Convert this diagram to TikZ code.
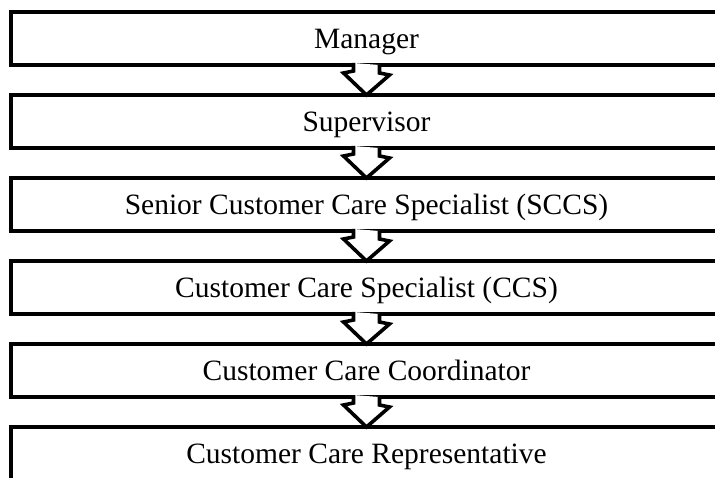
\documentclass[tikz,border=0pt]{standalone}
\usepackage{fontspec}
\setmainfont{Liberation Serif}
\usepackage{tikz}
\usetikzlibrary{positioning,calc}

\begin{document}
\begin{tikzpicture}[
    x=1pt, y=-1pt,
    level/.style={rectangle, draw, line width=4pt, outer sep=0pt, minimum width=711pt, minimum height=53pt, text height=23pt, text depth=3pt, font=\fontsize{29.5}{32}\selectfont},
    down/.style={draw, line width=3.6pt, fill=white, line join=miter}
]
    \useasboundingbox (0,0) rectangle (715,478);

    \node[level] (mgr)  at (366.5,38.5)  {Manager};
    \node[level] (sup)  at (366.5,121.5) {Supervisor};
    \node[level] (sccs) at (366.5,204.5) {Senior Customer Care Specialist (SCCS)};
    \node[level] (ccs)  at (366.5,287.5) {Customer Care Specialist (CCS)};
    \node[level] (ccc)  at (366.5,370.5) {Customer Care Coordinator};
    \node[level] (ccr)  at (366.5,453.5) {Customer Care Representative};

    % block arrows, white fill wipes out the border under the shaft
    \draw[down] ($(mgr.south)+(-13,-2)$) -- ++(0,8) -- ++(-10,2) -- (sup.north) -- ++(23,-20) -- ++(-10,-2) -- ++(0,-8);
    \draw[down] ($(sup.south)+(-13,-2)$) -- ++(0,8) -- ++(-10,2) -- (sccs.north) -- ++(23,-20) -- ++(-10,-2) -- ++(0,-8);
    \draw[down] ($(sccs.south)+(-13,-2)$) -- ++(0,8) -- ++(-10,2) -- (ccs.north) -- ++(23,-20) -- ++(-10,-2) -- ++(0,-8);
    \draw[down] ($(ccs.south)+(-13,-2)$) -- ++(0,8) -- ++(-10,2) -- (ccc.north) -- ++(23,-20) -- ++(-10,-2) -- ++(0,-8);
    \draw[down] ($(ccc.south)+(-13,-2)$) -- ++(0,8) -- ++(-10,2) -- (ccr.north) -- ++(23,-20) -- ++(-10,-2) -- ++(0,-8);
\end{tikzpicture}
\end{document}
